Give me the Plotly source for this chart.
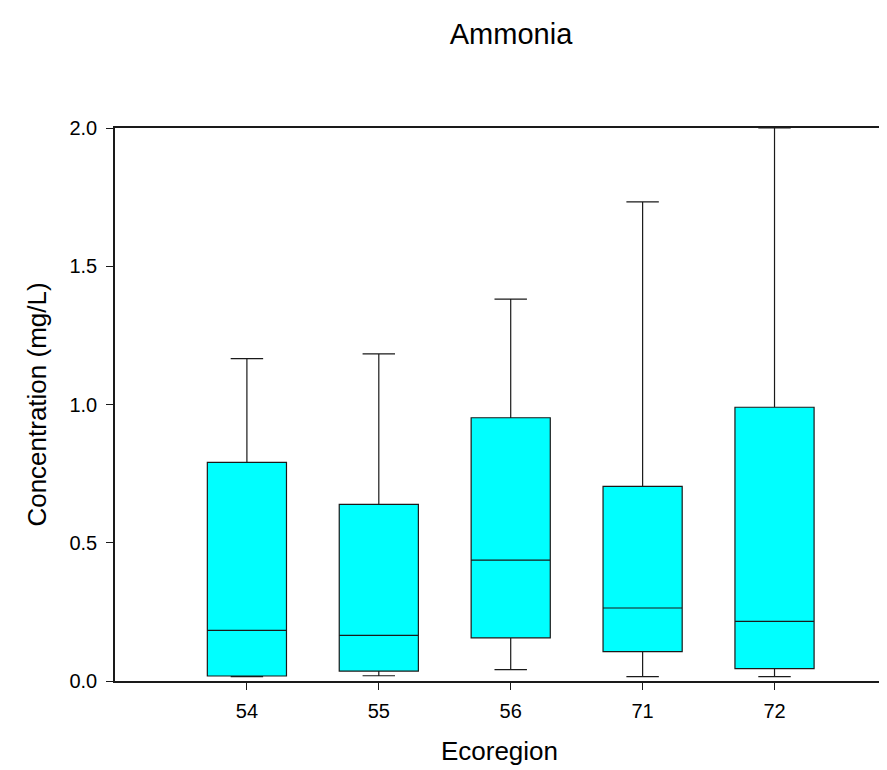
import plotly.graph_objects as go

categories = ["54", "55", "56", "71", "72"]
lower_whisker = [0.016, 0.019, 0.041, 0.016, 0.016]
q1_values = [0.018, 0.036, 0.156, 0.106, 0.045]
median_values = [0.183, 0.165, 0.437, 0.264, 0.216]
q3_values = [0.791, 0.639, 0.952, 0.704, 0.990]
upper_whisker = [1.166, 1.183, 1.381, 1.733, 2.0]

positions = list(range(len(categories)))

fig = go.Figure()
for i, cat in enumerate(categories):
    fig.add_trace(go.Box(
        x=[positions[i]],
        q1=[q1_values[i]],
        median=[median_values[i]],
        q3=[q3_values[i]],
        lowerfence=[lower_whisker[i]],
        upperfence=[upper_whisker[i]],
        width=0.6,
        whiskerwidth=0.41,
        fillcolor="#00FFFF",
        line=dict(color="#1a1a1a", width=1.2),
        boxpoints=False,
        name=cat,
        showlegend=False,
        hoverinfo="y",
    ))

font_family = "Liberation Sans, Arial, sans-serif"

fig.update_layout(
    width=887,
    height=770,
    margin=dict(l=107, r=11, t=120, b=97),
    paper_bgcolor="white",
    plot_bgcolor="white",
    font=dict(family=font_family, color="black", size=20),
    title=dict(text="Ammonia", x=0.515, xref="paper", xanchor="center",
               y=1 - 26 / 770, yref="container", yanchor="middle",
               font=dict(size=29, family=font_family, color="black")),
    xaxis=dict(
        range=[-1, 4.83],
        tickmode="array",
        tickvals=positions,
        ticktext=categories,
        showline=True,
        linecolor="#1a1a1a",
        linewidth=1.5,
        mirror=True,
        ticks="outside",
        ticklen=7,
        tickwidth=1.2,
        tickcolor="#1a1a1a",
        showgrid=False,
        zeroline=False,
        tickfont=dict(size=20),
        ticklabelstandoff=4,
        title=dict(text="Ecoregion", font=dict(size=26), standoff=21),
    ),
    yaxis=dict(
        range=[0, 2.0],
        tickvals=[0, 0.5, 1.0, 1.5, 2.0],
        tickformat=".1f",
        showline=True,
        linecolor="#1a1a1a",
        linewidth=1.5,
        mirror=False,
        ticks="outside",
        ticklen=7,
        tickwidth=1.2,
        tickcolor="#1a1a1a",
        showgrid=False,
        zeroline=False,
        tickfont=dict(size=20),
        ticklabelstandoff=5,
        title=dict(text="Concentration (mg/L)", font=dict(size=26), standoff=15),
    ),
)

fig.write_html("out.html")
